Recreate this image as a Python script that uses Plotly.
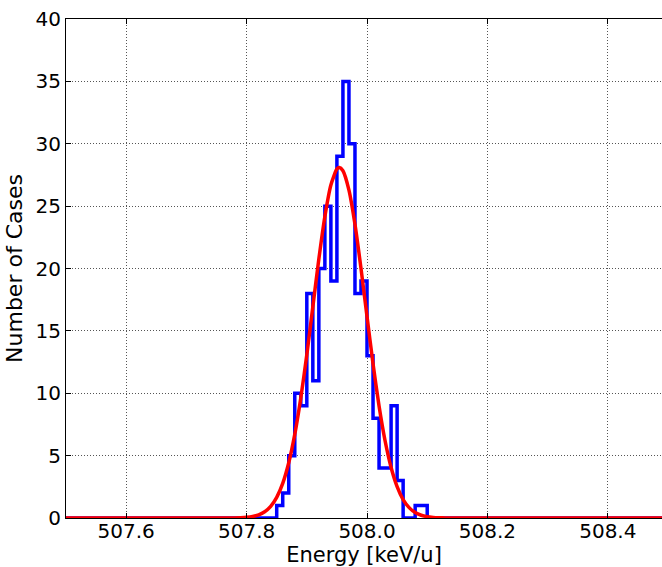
import plotly.graph_objects as go

# Histogram: left edges of 0.01 keV/u bins and counts
bin_left = [507.85, 507.86, 507.87, 507.88, 507.89, 507.90, 507.91, 507.92, 507.93,
            507.94, 507.95, 507.96, 507.97, 507.98, 507.99, 508.00, 508.01, 508.02,
            508.03, 508.04, 508.05, 508.06, 508.07, 508.08, 508.09]
counts = [1, 2, 5, 10, 9, 18, 11, 20, 25, 19, 29, 35, 30, 18, 19, 13, 8, 4, 4, 9,
          3, 0, 0, 1, 1]
bin_width = 0.01

# Fitted Gaussian curve
fit_x = [507.50, 507.76, 507.78, 507.79, 507.80, 507.81, 507.82, 507.83, 507.84,
         507.85, 507.86, 507.87, 507.88, 507.89, 507.90, 507.91, 507.92, 507.93,
         507.94, 507.95, 507.954, 507.96, 507.97, 507.98, 507.99, 508.00, 508.01,
         508.02, 508.03, 508.04, 508.05, 508.06, 508.07, 508.08, 508.09, 508.10,
         508.11, 508.12, 508.13, 508.15, 508.50]
fit_y = [0.0, 0.0015, 0.010, 0.024, 0.056, 0.123, 0.255, 0.50, 0.935,
         1.66, 2.78, 4.43, 6.70, 9.62, 13.09, 16.93, 20.76, 24.17,
         26.70, 27.98, 28.1, 27.84, 26.28, 23.54, 20.01, 16.15, 12.36,
         8.98, 6.19, 4.05, 2.52, 1.48, 0.83, 0.44, 0.222, 0.106,
         0.048, 0.021, 0.0084, 0.0012, 0.0]

x_range = [507.5, 508.49]
y_range = [0, 40]
x_ticks = [507.6, 507.8, 508.0, 508.2, 508.4]
x_ticklabels = ["507.6", "507.8", "508.0", "508.2", "508.4"]
y_ticks = [0, 5, 10, 15, 20, 25, 30, 35, 40]

step_x = [507.5] + bin_left + [bin_left[-1] + bin_width, 508.5]
step_y = [0] + counts + [0, 0]

fig = go.Figure()
fig.add_trace(go.Scatter(x=step_x, y=step_y, mode="lines",
                         line=dict(color="#0000ff", width=3.5, shape="hv"),
                         showlegend=False, hoverinfo="skip"))
fig.add_trace(go.Scatter(x=fit_x, y=fit_y, mode="lines",
                         line=dict(color="#ff0000", width=3.5, shape="spline", smoothing=0.6),
                         showlegend=False))

font = dict(family="DejaVu Sans", size=20, color="black")
axis_common = dict(showline=True, linecolor="black", linewidth=1,
                   ticks="inside", ticklen=5, tickcolor="black",
                   showgrid=True, gridcolor="#555555", griddash="1px,2px", gridwidth=1,
                   zeroline=False, tickfont=font)

fig.update_layout(
    width=662, height=567,
    margin=dict(l=66, r=0, t=19, b=49),
    paper_bgcolor="white", plot_bgcolor="white",
    font=font,
    xaxis=dict(range=x_range, tickvals=x_ticks, ticktext=x_ticklabels, mirror="ticks",
               ticklabelstandoff=-5,
               title=dict(text="Energy [keV/u]", font=dict(family="DejaVu Sans", size=21, color="black"),
                          standoff=2), **axis_common),
    yaxis=dict(range=y_range, tickvals=y_ticks, mirror=False,
               title=dict(text="Number of Cases", font=dict(family="DejaVu Sans", size=22, color="black"),
                          standoff=6), **axis_common),
)

fig.write_html("out.html")
